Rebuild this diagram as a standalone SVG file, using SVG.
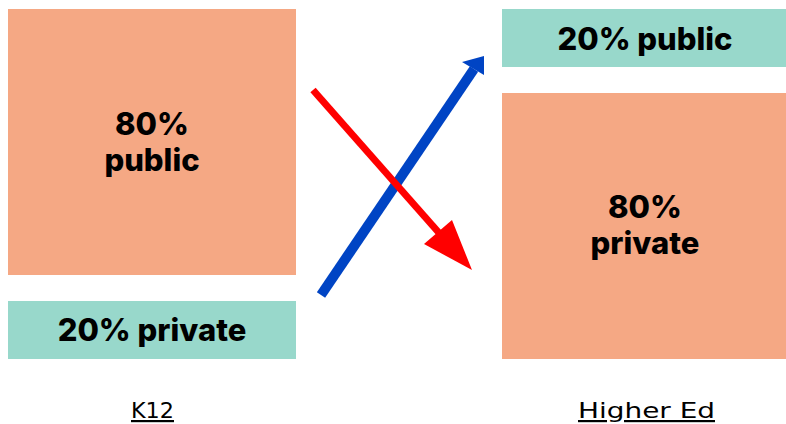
<svg xmlns="http://www.w3.org/2000/svg" width="786" height="424" viewBox="0 0 786 424">
  <style>
    .big { fill: #F5A884; }
    .small { fill: #98D8CB; }
    .val { font-family: "Inter", "Noto Sans", sans-serif; font-weight: 800; font-size: 31px; fill: #000; text-anchor: middle; }
    .cap { font-family: "DejaVu Sans", "Lato", sans-serif; font-weight: 400; font-size: 22px; fill: #000; text-decoration: underline; }
  </style>

  <!-- K12 column -->
  <g id="k12-public">
    <rect class="big" x="8" y="9" width="288" height="266"/>
    <text class="val" x="152" y="135">80%</text>
    <text class="val" x="152" y="171">public</text>
  </g>
  <g id="k12-private">
    <rect class="small" x="8" y="301" width="288" height="58"/>
    <text class="val" x="152" y="341">20% private</text>
  </g>
  <g id="k12-label">
    <text class="cap" x="131" y="418" textLength="43" lengthAdjust="spacingAndGlyphs">K12</text>
  </g>

  <!-- Higher Ed column -->
  <g id="he-public">
    <rect class="small" x="502" y="9" width="284" height="58"/>
    <text class="val" x="645" y="50">20% public</text>
  </g>
  <g id="he-private">
    <rect class="big" x="502" y="93" width="284" height="266"/>
    <text class="val" x="645" y="218">80%</text>
    <text class="val" x="645" y="254">private</text>
  </g>
  <g id="he-label">
    <text class="cap" x="578" y="418" textLength="137" lengthAdjust="spacingAndGlyphs">Higher Ed</text>
  </g>

  <!-- crossing arrows -->
  <g id="connectors">
    <line x1="321" y1="295" x2="474" y2="69" stroke="#0044C4" stroke-width="10"/>
    <polygon points="484,56 462,62 484,75" fill="#0044C4"/>
    <line x1="313" y1="90" x2="440" y2="234" stroke="#FF0000" stroke-width="7"/>
    <polygon points="472,270 424,244 452,220" fill="#FF0000"/>
  </g>
</svg>
